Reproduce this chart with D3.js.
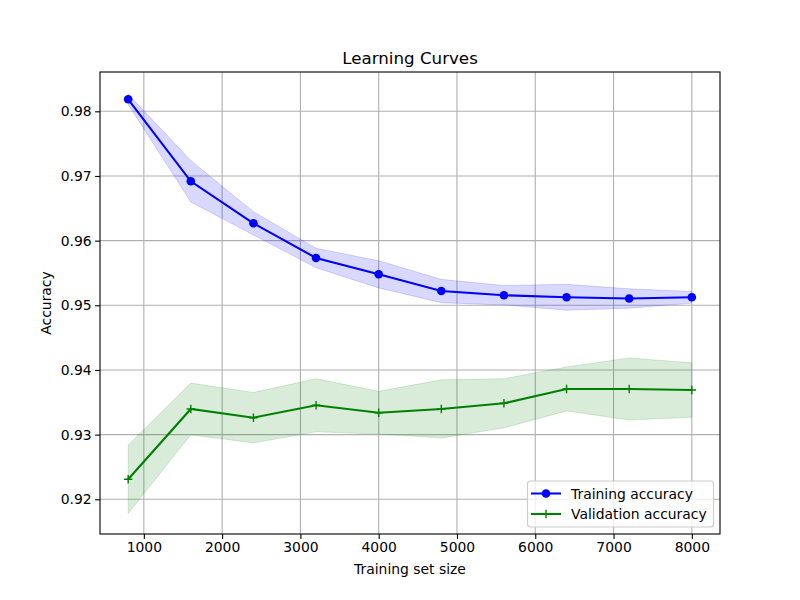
<!DOCTYPE html>
<html>
<head>
<meta charset="utf-8">
<script src="https://cdn.jsdelivr.net/npm/d3@7"></script>
<style>
body{margin:0;background:#fff;}
svg{display:block;font-family:"DejaVu Sans",sans-serif;}
</style>
</head>
<body>
<svg id="chart" width="800" height="600"></svg>
<script>
const trainSizes = [800, 1600, 2400, 3200, 4000, 4800, 5600, 6400, 7200, 8000];
const trainMean = [0.98186, 0.96918, 0.96268, 0.95732, 0.95479, 0.95221, 0.95155, 0.95124, 0.95105, 0.95124];
const trainStd  = [0.0008, 0.0032, 0.0018, 0.0015, 0.0021, 0.0018, 0.0015, 0.0020, 0.0015, 0.0009];
const valMean = [0.92310, 0.93397, 0.93262, 0.93454, 0.93339, 0.93397, 0.93485, 0.93706, 0.93706, 0.93690];
const valStd  = [0.0053, 0.0040, 0.0039, 0.0041, 0.0033, 0.0045, 0.0038, 0.0034, 0.0048, 0.0042];
const xTicks = [1000, 2000, 3000, 4000, 5000, 6000, 7000, 8000];
const yTicks = [0.92, 0.93, 0.94, 0.95, 0.96, 0.97, 0.98];
const legendLabels = ["Training accuracy", "Validation accuracy"];

const svg = d3.select("#chart");
const L = 100, R = 720, T = 72, B = 534;
const x = d3.scaleLinear().domain([440, 8360]).range([L, R]);
const y = d3.scaleLinear().domain([0.91463, 0.98608]).range([B, T]);

// grid
const g = svg.append("g");
g.selectAll(".vg").data(xTicks).enter().append("line")
  .attr("x1", d => x(d)).attr("x2", d => x(d)).attr("y1", T).attr("y2", B)
  .attr("stroke", "#b0b0b0").attr("stroke-width", 1.1);
g.selectAll(".hg").data(yTicks).enter().append("line")
  .attr("y1", d => y(d)).attr("y2", d => y(d)).attr("x1", L).attr("x2", R)
  .attr("stroke", "#b0b0b0").attr("stroke-width", 1.1);

// bands
const trainData = trainSizes.map((s, i) => ({s, m: trainMean[i], sd: trainStd[i]}));
const valData = trainSizes.map((s, i) => ({s, m: valMean[i], sd: valStd[i]}));
const area = d3.area().x(d => x(d.s)).y0(d => y(d.m - d.sd)).y1(d => y(d.m + d.sd));
svg.append("path").datum(trainData).attr("d", area).attr("fill", "blue").attr("fill-opacity", 0.15)
  .attr("stroke", "blue").attr("stroke-opacity", 0.15).attr("stroke-width", 1);
svg.append("path").datum(valData).attr("d", area).attr("fill", "green").attr("fill-opacity", 0.15)
  .attr("stroke", "green").attr("stroke-opacity", 0.15).attr("stroke-width", 1);

const line = d3.line().x(d => x(d.s)).y(d => y(d.m));
svg.append("path").datum(trainData).attr("d", line).attr("fill", "none").attr("stroke", "blue").attr("stroke-width", 2.08);
svg.selectAll(".tm").data(trainData).enter().append("circle")
  .attr("cx", d => x(d.s)).attr("cy", d => y(d.m)).attr("r", 4.3).attr("fill", "blue");
svg.append("path").datum(valData).attr("d", line).attr("fill", "none").attr("stroke", "green").attr("stroke-width", 2.08);
const plusPath = (cx, cy, h) => `M${cx-h},${cy}H${cx+h}M${cx},${cy-h}V${cy+h}`;
svg.selectAll(".vm").data(valData).enter().append("path")
  .attr("d", d => plusPath(x(d.s), y(d.m), 4.2)).attr("stroke", "green").attr("stroke-width", 1.4).attr("fill", "none");

// axes
const xAxis = svg.append("g").attr("transform", `translate(0,${B})`)
  .call(d3.axisBottom(x).tickValues(xTicks).tickFormat(d3.format("d")).tickSize(4.9).tickPadding(3.5));
const yAxis = svg.append("g").attr("transform", `translate(${L},0)`)
  .call(d3.axisLeft(y).tickValues(yTicks).tickFormat(d3.format(".2f")).tickSize(4.9).tickPadding(3.5));
[xAxis, yAxis].forEach(a => {
  a.select(".domain").remove();
  a.selectAll("line").attr("stroke", "#000").attr("stroke-width", 1.1);
  a.selectAll("text").attr("font-family", "DejaVu Sans").attr("font-size", "13.9px").attr("fill", "#000");
});
svg.append("rect").attr("x", L).attr("y", T).attr("width", R - L).attr("height", B - T)
  .attr("fill", "none").attr("stroke", "#000").attr("stroke-width", 1.1);

// labels
svg.append("text").attr("x", (L + R) / 2).attr("y", 64).attr("text-anchor", "middle")
  .attr("font-size", "16.7px").text("Learning Curves");
svg.append("text").attr("x", (L + R) / 2).attr("y", 574).attr("text-anchor", "middle")
  .attr("font-size", "13.9px").text("Training set size");
svg.append("text").attr("transform", `translate(51,${(T + B) / 2}) rotate(-90)`).attr("text-anchor", "middle")
  .attr("font-size", "13.9px").text("Accuracy");

// legend
const lg = svg.append("g");
lg.append("rect").attr("x", 527.5).attr("y", 481).attr("width", 186).attr("height", 46).attr("rx", 3)
  .attr("fill", "#fff").attr("fill-opacity", 0.8).attr("stroke", "#cccccc").attr("stroke-width", 1.1);
const colors = ["blue", "green"];
legendLabels.forEach((lab, i) => {
  const cy = 493.5 + i * 20.5;
  lg.append("line").attr("x1", 531).attr("x2", 561).attr("y1", cy).attr("y2", cy)
    .attr("stroke", colors[i]).attr("stroke-width", 2.08);
  if (i === 0) lg.append("circle").attr("cx", 546).attr("cy", cy).attr("r", 4.3).attr("fill", "blue");
  else lg.append("path").attr("d", plusPath(546, cy, 4.2)).attr("stroke", "green").attr("stroke-width", 1.4);
  lg.append("text").attr("x", 571).attr("y", cy + 5).attr("font-size", "13.9px").text(lab);
});
</script>
</body>
</html>
